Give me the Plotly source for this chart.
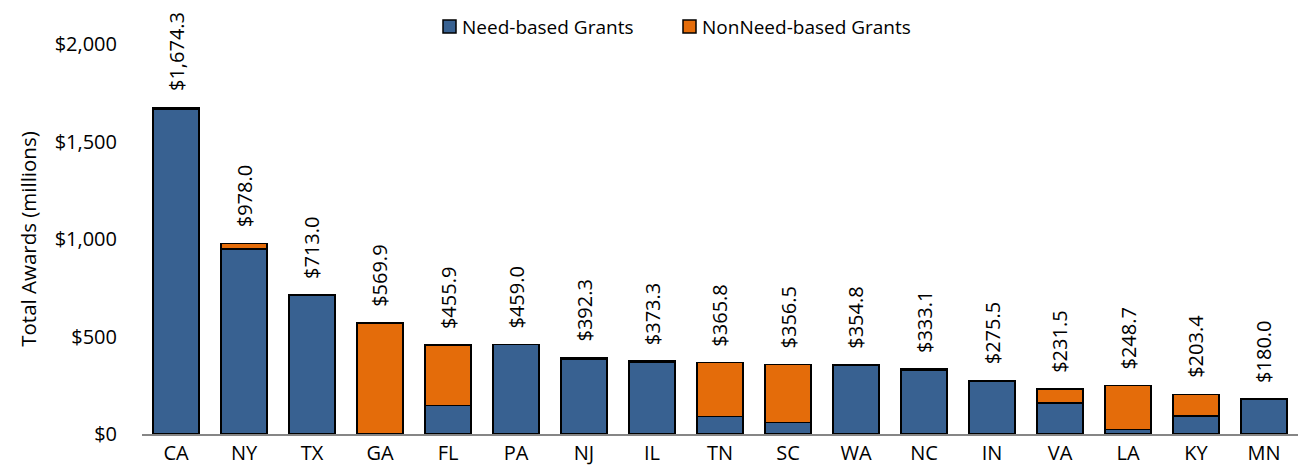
import plotly.graph_objects as go

states = ['CA', 'NY', 'TX', 'GA', 'FL', 'PA', 'NJ', 'IL', 'TN', 'SC',
          'WA', 'NC', 'IN', 'VA', 'LA', 'KY', 'MN']
need = [1666.3, 950.0, 713.0, 0.0, 147.0, 459.0, 385.3, 368.3, 89.0, 60.0,
        354.8, 328.1, 268.0, 159.0, 24.0, 92.0, 180.0]
nonneed = [8.0, 28.0, 0.0, 569.9, 308.9, 0.0, 7.0, 5.0, 276.8, 296.5,
           0.0, 5.0, 7.5, 72.5, 224.7, 111.4, 0.0]
totals = [1674.3, 978.0, 713.0, 569.9, 455.9, 459.0, 392.3, 373.3, 365.8, 356.5,
          354.8, 333.1, 275.5, 231.5, 248.7, 203.4, 180.0]
yticks = [0, 500, 1000, 1500, 2000]
yticklabels = ['$0', '$500', '$1,000', '$1,500', '$2,000']
series = ['Need-based Grants', 'NonNeed-based Grants']

blue = 'rgb(56,97,145)'
orange = 'rgb(228,108,10)'
font = '"Open Sans", sans-serif'

fig = go.Figure()
fig.add_trace(go.Bar(x=states, y=need, name=series[0], showlegend=False,
                     marker=dict(color=blue, line=dict(color='black', width=1.5))))
fig.add_trace(go.Bar(x=states, y=nonneed, name=series[1], showlegend=False,
                     marker=dict(color=orange, line=dict(color='black', width=1.5))))

for s, t in zip(states, totals):
    fig.add_annotation(x=s, y=t, text='$' + f'{t:,.1f}', showarrow=False,
                       textangle=-90, yanchor='bottom', yshift=14,
                       font=dict(size=20, color='black', family=font))

# hand-made legend (paper coords: plot spans x 142..1298 px, y 434..44 px)
def px(x):
    return (x - 142) / 1156

def py(y):
    return (434 - y) / 390

for left, name, col in [(443, series[0], blue), (683, series[1], orange)]:
    fig.add_shape(type='rect', xref='paper', yref='paper',
                  x0=px(left), x1=px(left + 13), y0=py(33), y1=py(20),
                  fillcolor=col, line=dict(color='black', width=1.5))
    fig.add_annotation(xref='paper', yref='paper', x=px(left + 17), y=py(27),
                       xanchor='left', yanchor='middle', showarrow=False,
                       text=name, font=dict(size=19, color='black', family=font))

fig.update_layout(
    barmode='stack', bargap=0.33,
    width=1298, height=469,
    margin=dict(l=142, r=0, t=44, b=35, autoexpand=False),
    plot_bgcolor='white', paper_bgcolor='white',
    font=dict(family=font, size=20, color='black'),
    showlegend=False,
)
fig.update_xaxes(showline=True, linecolor='#868686', linewidth=1.5,
                 ticks='', showgrid=False, automargin=False)
fig.update_yaxes(range=[0, 2000], tickvals=yticks, ticktext=yticklabels,
                 showgrid=False, zeroline=False, automargin=False,
                 ticks='outside', ticklen=20, tickcolor='rgba(0,0,0,0)',
                 title=dict(text='Total Awards (millions)', font=dict(size=20.5), standoff=12))

fig.write_html('out.html', config={'displayModeBar': False},
               post_script="document.body.style.margin='0';")
